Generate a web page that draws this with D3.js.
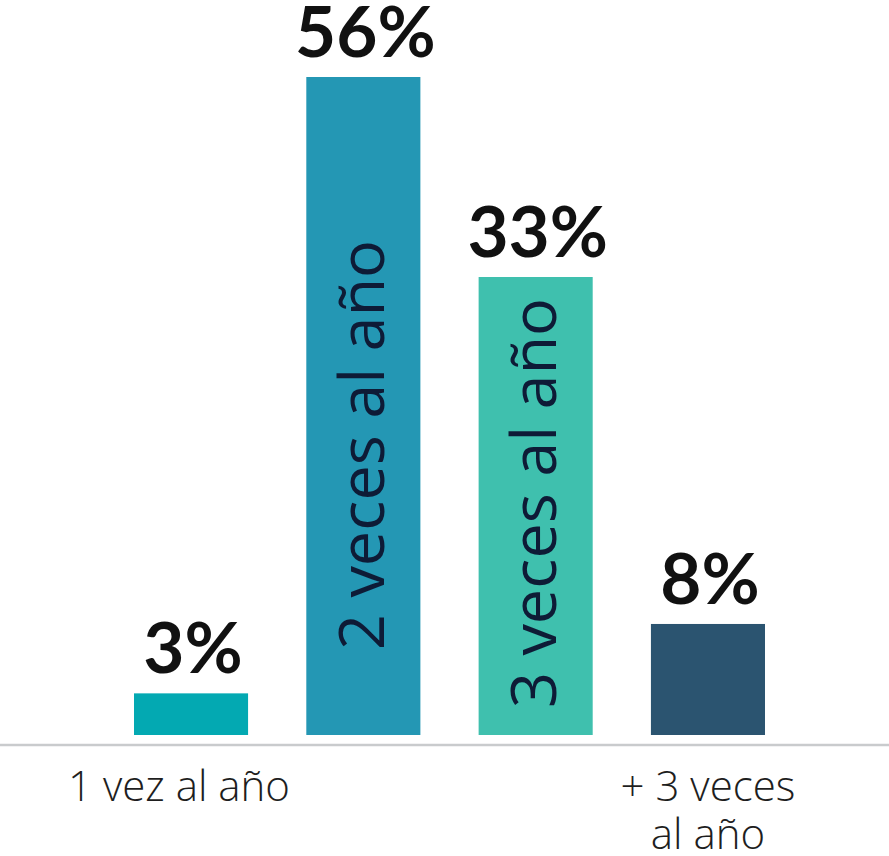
<!DOCTYPE html>
<html>
<head>
<meta charset="utf-8">
<script src="https://cdn.jsdelivr.net/npm/d3@7/dist/d3.min.js"></script>
<style>
  html, body { margin: 0; padding: 0; background: #ffffff; }
  svg { display: block; }
</style>
</head>
<body>
<div id="chart"></div>
<script>
// ---- data ----
const categories = ["1 vez al año", "2 veces al año", "3 veces al año", "+ 3 veces al año"];
const values = [3, 56, 33, 8];
const valueLabels = ["3%", "56%", "33%", "8%"];
const belowLabels = [["1 vez al año"], [], [], ["+ 3 veces", "al año"]];
const insideLabels = ["", "2 veces al año", "3 veces al año", ""];

// ---- layout / style ----
const W = 889, H = 856;
const colors = ["#03a9b2", "#2497b4", "#3fc0ae", "#2b5470"];
const baseY = 735;
const insideOffset = [0, 85, 27, 0];

const svg = d3.select("#chart").append("svg")
  .attr("width", W).attr("height", H)
  .style("background", "#fff");

const x = d3.scaleBand()
  .domain(categories)
  .range([134, 765])
  .paddingInner(0.338)
  .paddingOuter(0);

// polylinear (broken) scale, as the infographic exaggerates the mid range
const y = d3.scaleLinear()
  .domain([0, 33, 56])
  .range([baseY, 277, 77]);

// axis line
svg.append("line")
  .attr("x1", 0).attr("x2", W)
  .attr("y1", 745).attr("y2", 745)
  .attr("stroke", "#c9cbcd").attr("stroke-width", 2.5);

// bars
svg.selectAll("rect.bar").data(values).join("rect")
  .attr("class", "bar")
  .attr("x", (d, i) => x(categories[i]))
  .attr("y", d => y(d))
  .attr("width", x.bandwidth())
  .attr("height", d => y(0) - y(d))
  .attr("fill", (d, i) => colors[i]);

// value labels
svg.selectAll("text.val").data(values).join("text")
  .attr("class", "val")
  .attr("x", (d, i) => x(categories[i]) + x.bandwidth() / 2 + 2)
  .attr("y", d => y(d) - 20)
  .attr("text-anchor", "middle")
  .attr("font-family", "Lato, 'Open Sans', sans-serif")
  .attr("font-weight", 700)
  .attr("font-size", 71)
  .attr("fill", "#111")
  .text((d, i) => valueLabels[i]);

// inside rotated labels
const insideSize = 63;
insideLabels.forEach((t, i) => {
  if (!t) return;
  const cx = x(categories[i]) + x.bandwidth() / 2;
  const cap = insideSize * 0.714;
  const bx = cx + cap / 2 - 2;
  const by = y(0) - insideOffset[i];
  svg.append("text")
    .attr("transform", `translate(${bx},${by}) rotate(-90)`)
    .attr("text-anchor", "start")
    .attr("font-family", "'Open Sans', sans-serif")
    .attr("font-weight", 400)
    .attr("font-size", insideSize)
    .attr("fill", "#0e1b36")
    .text(t);
});

// below labels
belowLabels.forEach((lines, i) => {
  if (!lines.length) return;
  const cx = x(categories[i]) + x.bandwidth() / 2;
  lines.forEach((l, j) => {
    svg.append("text")
      .attr("text-anchor", "middle")
      .attr("font-family", "'Open Sans', sans-serif")
      .attr("font-weight", 300)
      .attr("font-size", 42)
      .attr("fill", "#1e1e1e")
      .attr("x", i === 0 ? cx - 12 : cx)
      .attr("y", 801 + j * 48)
      .text(l);
  });
});
</script>
</body>
</html>
